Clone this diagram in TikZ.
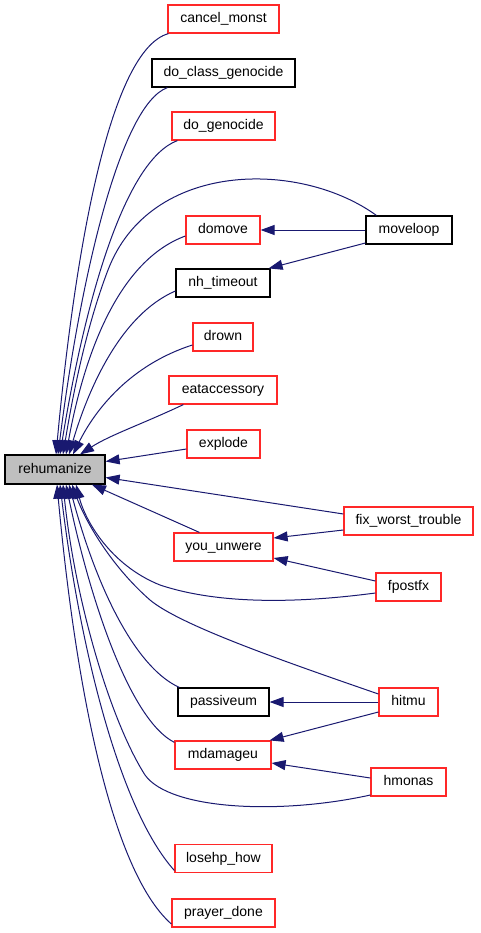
\documentclass[tikz,border=0pt]{standalone}
\usepackage{fontspec}
\setmainfont{Liberation Sans}
\usetikzlibrary{arrows.meta}
\definecolor{edgec}{RGB}{25,25,112}
\definecolor{redb}{RGB}{255,40,40}
\definecolor{grayf}{RGB}{191,191,191}
\tikzset{
  box/.style={draw, line width=1.2pt, fill=white, inner sep=0pt, font=\fontsize{14}{15}\selectfont, text height=10pt, text depth=3pt},
  redbox/.style={box, draw=redb},
  blackbox/.style={box, draw=black},
  edge/.style={draw=edgec, line width=1pt, -{Triangle[length=14pt,width=10pt]}},
}
\begin{document}
\begin{tikzpicture}[x=1pt,y=-1pt]
\useasboundingbox (0,0) rectangle (480,933);
\fill[white] (0,0) rectangle (480,933);
% nodes
\node[blackbox, fill=grayf, minimum width=100pt, minimum height=29pt] (rh) at (55,469.5) {rehumanize};
\node[redbox, minimum width=111pt, minimum height=28pt] (cm) at (223.5,19) {cancel\_monst};
\node[blackbox, minimum width=143pt, minimum height=28pt] (dcg) at (223.5,73) {do\_class\_genocide};
\node[redbox, minimum width=103pt, minimum height=28pt] (dg) at (223.5,126) {do\_genocide};
\node[redbox, minimum width=74pt, minimum height=28pt] (dm) at (223,230) {domove};
\node[blackbox, minimum width=86pt, minimum height=28pt] (ml) at (409,230) {moveloop};
\node[blackbox, minimum width=94pt, minimum height=28pt] (nh) at (223,283) {nh\_timeout};
\node[redbox, minimum width=60pt, minimum height=28pt] (dr) at (223,337) {drown};
\node[redbox, minimum width=108pt, minimum height=28pt] (ea) at (223,390) {eataccessory};
\node[redbox, minimum width=73pt, minimum height=28pt] (ex) at (223.5,444) {explode};
\node[redbox, minimum width=129pt, minimum height=28pt] (fw) at (408.5,521) {fix\_worst\_trouble};
\node[redbox, minimum width=99pt, minimum height=28pt] (yu) at (223.5,547) {you\_unwere};
\node[redbox, minimum width=65pt, minimum height=28pt] (fp) at (408.5,587) {fpostfx};
\node[blackbox, minimum width=91pt, minimum height=28pt] (pa) at (223.5,702) {passiveum};
\node[redbox, minimum width=59pt, minimum height=28pt] (hm) at (408.5,702) {hitmu};
\node[redbox, minimum width=96pt, minimum height=28pt] (md) at (223,755) {mdamageu};
\node[redbox, minimum width=75pt, minimum height=28pt] (ho) at (408.5,782) {hmonas};
\node[redbox, minimum width=97pt, minimum height=28pt] (lh) at (223.5,858.5) {losehp\_how};
\node[redbox, minimum width=103pt, minimum height=28pt] (pd) at (223.5,913) {prayer\_done};
% coordinates on rehumanize
\coordinate (t1) at ([xshift=1pt]rh.north);
\coordinate (t2) at ([xshift=3pt]rh.north);
\coordinate (t3) at ([xshift=5pt]rh.north);
\coordinate (t4) at ([xshift=8pt]rh.north);
\coordinate (t5) at ([xshift=11pt]rh.north);
\coordinate (t6) at ([xshift=14pt]rh.north);
\coordinate (t7) at ([xshift=18pt]rh.north);
\coordinate (t8) at ([xshift=25pt]rh.north);
\coordinate (b1) at ([xshift=2pt]rh.south);
\coordinate (b2) at ([xshift=5pt]rh.south);
\coordinate (b3) at ([xshift=8pt]rh.south);
\coordinate (b4) at ([xshift=11pt]rh.south);
\coordinate (b5) at ([xshift=14pt]rh.south);
\coordinate (b6) at ([xshift=17pt]rh.south);
\coordinate (b7) at ([xshift=21pt]rh.south);
\coordinate (b8) at ([xshift=37pt]rh.south);
% edges into rehumanize
\draw[edge] ([xshift=1pt]cm.south west) .. controls (110,50) and (75,250) .. (t1);
\draw[edge] ([xshift=16pt]dcg.south west) .. controls (120,105) and (80,280) .. (t2);
\draw[edge] ([xshift=6pt]dg.south west) .. controls (125,160) and (85,300) .. (t3);
\draw[edge] ([xshift=11pt]ml.north west) .. controls (300,160) and (150,160) .. (108,270) .. controls (85,330) and (72,400) .. (t4);
\draw[edge] ([yshift=-6pt]dm.west) .. controls (120,260) and (85,350) .. (t5);
\draw[edge] ([yshift=-8pt]nh.west) .. controls (120,315) and (88,390) .. (t6);
\draw[edge] ([yshift=-8pt]dr.west) .. controls (130,365) and (95,410) .. (t7);
\draw[edge] ([xshift=15pt]ea.south west) .. controls (140,425) and (110,435) .. (t8);
\draw[edge] ([yshift=-5pt]ex.west) -- ([yshift=8pt]rh.east);
\draw[edge] ([yshift=7pt]fw.west) -- ([yshift=-8pt]rh.east);
\draw[edge] ([xshift=26pt]yu.north west) -- (b8);
\draw[edge] ([yshift=-6pt]fp.west) .. controls (300,603) and (220,605) .. (160,585) .. controls (110,565) and (85,520) .. (b7);
\draw[edge] ([yshift=8pt]hm.west) .. controls (280,660) and (180,625) .. (150,600) .. controls (110,565) and (85,520) .. (b6);
\draw[edge] ([xshift=2pt]pa.north west) .. controls (140,670) and (100,600) .. (b5);
\draw[edge] ([yshift=-2pt]md.north west) .. controls (130,720) and (90,600) .. (b4);
\draw[edge] ([yshift=-13pt]ho.west) .. controls (280,815) and (170,810) .. (145,775) .. controls (110,720) and (75,600) .. (b3);
\draw[edge] ([yshift=-12pt]lh.west) .. controls (120,810) and (80,650) .. (b2);
\draw[edge] ([yshift=-11pt]pd.west) .. controls (110,870) and (75,680) .. (b1);
% edges between right column and middle column
\draw[edge] (ml.west) -- (dm.east);
\draw[edge] ([yshift=-13pt]ml.west) -- ([xshift=-2pt]nh.north east);
\draw[edge] ([yshift=-9pt]fw.west) -- ([yshift=9pt]yu.east);
\draw[edge] ([yshift=6pt]fp.west) -- ([yshift=-11pt]yu.east);
\draw[edge] (hm.west) -- (pa.east);
\draw[edge] ([yshift=-10pt]hm.west) -- ([xshift=-2pt]md.north east);
\draw[edge] ([yshift=4pt]ho.west) -- ([yshift=-8pt]md.east);
\end{tikzpicture}
\end{document}
